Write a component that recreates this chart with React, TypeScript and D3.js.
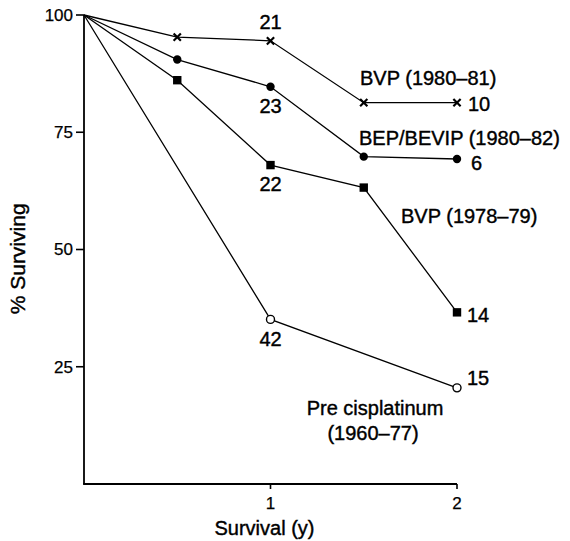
import { useEffect, useRef } from 'react';
import * as d3 from 'd3';

// survival times (years) and % surviving for each treatment group
const years = [0, 0.5, 1, 1.5, 2];
const bvp8081 = [100, 95.3, 94.5, 81.3, 81.3];
const bepBevip = [100, 90.5, 84.7, 69.8, 69.3];
const bvp7879 = [100, 86.1, 68.0, 63.2, 36.6];
const preYears = [0, 1, 2];
const preCis = [100, 35.1, 20.5];

const yTicks = [25, 50, 75, 100];
const xTicks = [1, 2];

const width = 570;
const height = 541;

const FONT = '"Liberation Sans", Arial, sans-serif';

type Pt = { x: number; y: number };
const zip = (xs: number[], ys: number[]): Pt[] => xs.map((x, i) => ({ x, y: ys[i] }));

const App = () => {
    const svgRef = useRef<SVGSVGElement>(null);

    useEffect(() => {
        if (!svgRef.current) return;
        d3.select(svgRef.current).selectAll('*').remove();

        const svg = d3.select(svgRef.current)
            .attr('width', width)
            .attr('height', height)
            .style('font-family', FONT);

        const x = d3.scaleLinear().domain([0, 2]).range([84, 457]);
        const y = d3.scaleLinear().domain([0, 100]).range([484, 15]);

        // axes
        svg.append('line')
            .attr('x1', x(0)).attr('x2', x(0))
            .attr('y1', y(100)).attr('y2', y(0))
            .attr('stroke', '#000').attr('stroke-width', 1.8);
        svg.append('line')
            .attr('x1', x(0) - 0.9).attr('x2', x(2))
            .attr('y1', y(0)).attr('y2', y(0))
            .attr('stroke', '#000').attr('stroke-width', 1.8);

        yTicks.forEach(t => {
            svg.append('line')
                .attr('x1', x(0) - 8).attr('x2', x(0))
                .attr('y1', y(t)).attr('y2', y(t))
                .attr('stroke', '#000').attr('stroke-width', 1.6);
            svg.append('text')
                .attr('x', x(0) - 11).attr('y', y(t))
                .attr('dy', '0.35em')
                .attr('text-anchor', 'end')
                .attr('stroke', '#000').attr('stroke-width', 0.25)
                .style('font-size', '17px')
                .text(t);
        });

        xTicks.forEach(t => {
            svg.append('line')
                .attr('x1', x(t)).attr('x2', x(t))
                .attr('y1', y(0)).attr('y2', y(0) + 5)
                .attr('stroke', '#000').attr('stroke-width', 1.6);
            svg.append('text')
                .attr('x', x(t)).attr('y', y(0) + 25)
                .attr('text-anchor', 'middle')
                .attr('stroke', '#000').attr('stroke-width', 0.25)
                .style('font-size', '17px')
                .text(t);
        });

        svg.append('text')
            .attr('x', x(1) - 6).attr('y', 535)
            .attr('text-anchor', 'middle')
            .attr('stroke', '#000').attr('stroke-width', 0.4)
            .style('font-size', '20px')
            .text('Survival (y)');

        svg.append('text')
            .attr('transform', `translate(25,${y(48)}) rotate(-90)`)
            .attr('text-anchor', 'middle')
            .attr('stroke', '#000').attr('stroke-width', 0.4)
            .style('font-size', '21px')
            .text('% Surviving');

        const line = d3.line<Pt>().x(d => x(d.x)).y(d => y(d.y));

        const series = [
            { pts: zip(years, bvp8081), marker: 'cross' },
            { pts: zip(years, bepBevip), marker: 'dot' },
            { pts: zip(years, bvp7879), marker: 'square' },
            { pts: zip(preYears, preCis), marker: 'open' },
        ];

        series.forEach(s => {
            svg.append('path')
                .datum(s.pts)
                .attr('fill', 'none')
                .attr('stroke', '#000')
                .attr('stroke-width', 1.3)
                .attr('d', line);

            const g = svg.append('g');
            s.pts.slice(1).forEach(p => {
                const cx = x(p.x), cy = y(p.y);
                if (s.marker === 'cross') {
                    g.append('path')
                        .attr('d', d3.symbol(d3.symbolX, 36)())
                        .attr('transform', `translate(${cx},${cy})`)
                        .attr('stroke', '#000').attr('stroke-width', 2.2).attr('fill', 'none');
                } else if (s.marker === 'dot') {
                    g.append('circle').attr('cx', cx).attr('cy', cy).attr('r', 4.2).attr('fill', '#000');
                } else if (s.marker === 'square') {
                    g.append('rect').attr('x', cx - 4.2).attr('y', cy - 4.2)
                        .attr('width', 8.4).attr('height', 8.4).attr('fill', '#000');
                } else {
                    g.append('circle').attr('cx', cx).attr('cy', cy).attr('r', 4)
                        .attr('fill', '#fff').attr('stroke', '#000').attr('stroke-width', 1.4);
                }
            });
        });

        const label = (tx: number, ty: number, text: string, anchor = 'start') => {
            svg.append('text')
                .attr('x', tx).attr('y', ty)
                .attr('dy', '0.35em')
                .attr('text-anchor', anchor)
                .attr('stroke', '#000').attr('stroke-width', 0.4)
                .style('font-size', '20px')
                .text(text);
        };

        // patient numbers
        label(x(1), y(94.5) - 19, '21', 'middle');
        label(x(1), y(84.7) + 19, '23', 'middle');
        label(x(1), y(68.0) + 19, '22', 'middle');
        label(x(1), y(35.1) + 20, '42', 'middle');
        label(x(2) + 11, y(81.3) + 1, '10');
        label(x(2) + 14, y(69.3) + 4, '6');
        label(x(2) + 10, y(36.6) + 3, '14');
        label(x(2) + 10, y(20.5) - 10, '15');

        // group names
        label(360, 78, 'BVP (1980\u201381)');
        label(359, 138, 'BEP/BEVIP (1980\u201382)');
        label(401, 216, 'BVP (1978\u201379)');
        label(375, 408, 'Pre cisplatinum', 'middle');
        label(373, 433, '(1960\u201377)', 'middle');
    }, []);

    return (
        <svg ref={svgRef} role="img" aria-label="Survival by treatment group"
            style={{ position: 'absolute', left: 0, top: 0, background: '#fff' }}></svg>
    );
};

export default App;
